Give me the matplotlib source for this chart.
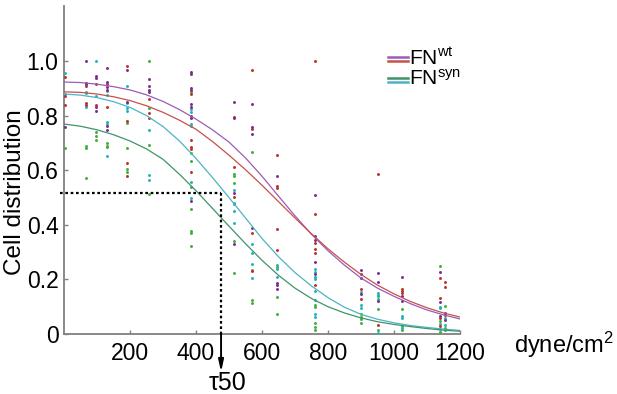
import matplotlib
matplotlib.use("Agg")
import matplotlib.pyplot as plt

plt.rcParams['font.family'] = ['Liberation Sans', 'DejaVu Sans']
plt.rcParams['mathtext.fontset'] = 'custom'
plt.rcParams['mathtext.rm'] = 'Liberation Sans'
plt.rcParams['mathtext.it'] = 'Liberation Sans:italic'

# shear stress columns (dyne/cm2)
shear = [3, 67, 97, 130, 191, 258, 385, 515, 570, 645, 761, 900, 952, 1024, 1139, 1155]

# cell distribution per column, one list per colour
purple_pts = [
    [0.76], [1.0, 0.92, 0.915], [0.945, 0.937, 0.83, 0.816],
    [0.974, 0.923, 0.905, 0.895, 0.762, 0.747], [0.967, 0.85],
    [0.934, 0.908, 0.894, 0.886],
    [0.96, 0.952, 0.90, 0.894, 0.842, 0.832, 0.80, 0.79, 0.487],
    [0.85, 0.79, 0.517, 0.33], [0.842, 0.758, 0.732, 0.39],
    [0.58, 0.187, 0.18, 0.165], [0.51, 0.359, 0.344, 0.264, 0.22],
    [0.234, 0.218, 0.205, 0.145], [0.223, 0.19, 0.12], [0.209, 0.139, 0.12],
    [0.227, 0.118, 0.066], [0.077, 0.05],
]
red_pts = [
    [0.94, 0.87, 0.84], [0.91, 0.846, 0.84], [0.915, 0.84], [0.915, 0.83],
    [0.982, 0.78, 0.626, 0.578], [0.86, 0.81, 0.79],
    [0.879, 0.71, 0.685, 0.677, 0.594], [0.795, 0.612, 0.50],
    [0.967, 0.75, 0.37, 0.23], [0.656, 0.543, 0.536, 0.383, 0.307],
    [1.0, 0.44, 0.333, 0.311, 0.297, 0.18], [0.163, 0.128], [0.585, 0.033],
    [0.164, 0.157, 0.15], [0.205, 0.131, 0.059, 0.03], [0.19, 0.172, 0.07],
]
cyan_pts = [
    [0.957, 0.88], [0.888, 0.883, 0.83], [1.0, 0.87],
    [0.89, 0.876, 0.777, 0.77, 0.652], [0.908, 0.846, 0.828, 0.817],
    [0.747, 0.582, 0.564], [0.823, 0.813, 0.77, 0.762, 0.557, 0.498],
    [0.527, 0.48, 0.476, 0.45, 0.406], [0.33, 0.296, 0.256, 0.205],
    [0.253, 0.238, 0.21], [0.238, 0.227, 0.209, 0.2, 0.158, 0.125, 0.073, 0.063],
    [0.155, 0.107, 0.095], [0.15, 0.143, 0.128, 0.005], [0.066, 0.06, 0.023],
    [0.10, 0.095, 0.037, 0.018], [0.059, 0.033],
]
green_pts = [
    [0.68], [0.69, 0.68, 0.57], [0.74, 0.725, 0.71], [0.70, 0.69, 0.684],
    [0.774, 0.68, 0.604, 0.593], [1.0, 0.827, 0.692, 0.513],
    [0.886, 0.663, 0.634, 0.539, 0.458, 0.377, 0.37, 0.322],
    [0.586, 0.58, 0.553, 0.34, 0.223], [0.667, 0.234, 0.125, 0.113],
    [0.245, 0.135, 0.073], [0.106, 0.1, 0.04, 0.025, 0.015],
    [0.073, 0.063, 0.054, 0.04], [0.139, 0.092, 0.015], [0.092, 0.03, 0.015],
    [0.249, 0.047, 0.008], [0.102, 0.022, 0.015],
]

# fitted curves read every 50 dyne/cm2
curve_x = list(range(0, 1201, 50))
purple_fit = [0.923, 0.921, 0.915, 0.906, 0.894, 0.876, 0.852, 0.822, 0.787, 0.748,
              0.703, 0.645, 0.578, 0.505, 0.433, 0.365, 0.305, 0.252, 0.205, 0.168,
              0.138, 0.111, 0.088, 0.07, 0.055]
red_fit = [0.887, 0.885, 0.879, 0.869, 0.855, 0.836, 0.812, 0.783, 0.75, 0.705,
           0.655, 0.602, 0.545, 0.485, 0.425, 0.367, 0.312, 0.263, 0.218, 0.179,
           0.147, 0.119, 0.096, 0.077, 0.062]
cyan_fit = [0.879, 0.875, 0.866, 0.851, 0.83, 0.80, 0.76, 0.707, 0.643, 0.573,
            0.50, 0.425, 0.35, 0.283, 0.225, 0.176, 0.133, 0.098, 0.072, 0.054,
            0.041, 0.031, 0.024, 0.018, 0.013]
green_fit = [0.769, 0.761, 0.748, 0.73, 0.707, 0.678, 0.64, 0.585, 0.525, 0.46,
             0.395, 0.331, 0.27, 0.215, 0.168, 0.13, 0.1, 0.077, 0.059, 0.045,
             0.035, 0.027, 0.02, 0.014, 0.01]

tau50_x = 476
tau50_y = 0.516

fig = plt.figure(figsize=(6.17, 3.94), dpi=100)
ax = fig.add_axes([0.1037, 0.1523, 0.6418, 0.8315])

# dots
dot_colors = {'purple': '#7b2a8c', 'red': '#b8322a', 'cyan': '#1fb3b8', 'green': '#3fae3a'}
for name, pts in [('green', green_pts), ('cyan', cyan_pts), ('red', red_pts), ('purple', purple_pts)]:
    xs = [shear[i] for i, col in enumerate(pts) for _ in col]
    ys = [v for col in pts for v in col]
    ax.scatter(xs, ys, s=4.5, color=dot_colors[name], linewidths=0, zorder=3)

# fit curves
ax.plot(curve_x, purple_fit, color='#9a5cb8', lw=0.9, zorder=4)
ax.plot(curve_x, red_fit, color='#c8504a', lw=0.9, zorder=4)
ax.plot(curve_x, cyan_fit, color='#4cb4c4', lw=0.9, zorder=4)
ax.plot(curve_x, green_fit, color='#3f9468', lw=0.9, zorder=4)

# tau50 guide
ax.plot([-12, tau50_x], [tau50_y, tau50_y], color='black', ls=(0, (1.2, 1.2)), lw=1.6,
        clip_on=False, zorder=5)
ax.plot([tau50_x, tau50_x], [tau50_y, 0], color='black', ls=(0, (1.2, 1.2)), lw=1.6,
        clip_on=False, zorder=5)
ax.annotate('', xy=(tau50_x, -0.14), xytext=(tau50_x, 0), annotation_clip=False,
            arrowprops=dict(arrowstyle='-|>,head_length=0.7,head_width=0.15',
                            color='black', lw=1.4, shrinkA=0, shrinkB=0))
ax.text(tau50_x + 20, -0.135, 'τ50', ha='center', va='top', fontsize=18, clip_on=False)

ax.set_xlim(0, 1200)
ax.set_ylim(0, 1.2)
ax.set_xticks([200, 400, 600, 800, 1000, 1200])
ax.set_yticks([0, 0.2, 0.4, 0.6, 0.8, 1.0])
ax.set_yticklabels(['0', '0.2', '0.4', '0.6', '0.8', '1.0'])
ax.tick_params(direction='in', length=3, width=1, color='#808080', labelsize=16.5)
ax.tick_params(axis='x', pad=6)
ax.tick_params(axis='y', pad=4)
for s in ['top', 'right']:
    ax.spines[s].set_visible(False)
for s in ['left', 'bottom']:
    ax.spines[s].set_color('#808080')
    ax.spines[s].set_linewidth(1.3)

fig.text(15 / 617, 1 - 192 / 394, 'Cell distribution', rotation=90, ha='center', va='center', fontsize=17.5)
fig.text(564 / 617, 1 - 345 / 394, r'dyne/cm$^{2}$', ha='center', va='center', fontsize=17)

# legend
lx0, lx1 = 0.818, 0.869
for yy, c in [(0.8455, '#9a5cb8'), (0.8333, '#c8504a'), (0.7814, '#3f9468'), (0.7692, '#4cb4c4')]:
    ax.plot([lx0, lx1], [yy, yy], color=c, lw=1.8, transform=ax.transAxes, clip_on=False)
ax.text(0.872, 0.820, r'FN$^{\mathrm{wt}}$', transform=ax.transAxes, fontsize=15, va='baseline')
ax.text(0.872, 0.760, r'FN$^{\mathrm{syn}}$', transform=ax.transAxes, fontsize=15, va='baseline')

fig.savefig('out.png', dpi=100)
